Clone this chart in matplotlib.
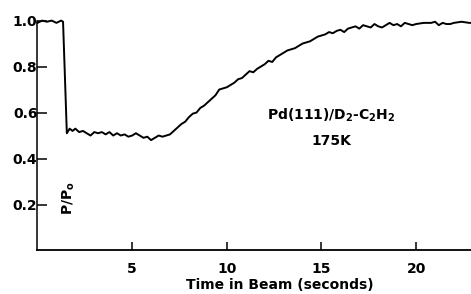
import matplotlib
matplotlib.use("Agg")
import matplotlib.pyplot as plt

plt.rcParams["font.family"] = ["DejaVu Sans"]
plt.rcParams["mathtext.fontset"] = "dejavusans"

# time in beam (s) and normalised pressure P/Po
time_s = [0, 0.25, 0.5, 0.75, 1.0, 1.25, 1.35,
          1.55, 1.7, 1.85, 2.0, 2.2, 2.4, 2.6, 2.8, 3.0, 3.2, 3.4, 3.6, 3.8,
          4.0, 4.2, 4.4, 4.6, 4.8, 5.0, 5.2, 5.4, 5.6, 5.8, 6.0, 6.2, 6.4,
          6.6, 6.8, 7.0, 7.2, 7.4, 7.6, 7.8, 8.0, 8.2, 8.4, 8.6, 8.8, 9.0,
          9.2, 9.4, 9.6, 9.8, 10.0, 10.2, 10.4, 10.6, 10.8, 11.0, 11.2, 11.4,
          11.6, 11.8, 12.0, 12.2, 12.4, 12.6, 12.8, 13.0, 13.2, 13.4, 13.6,
          13.8, 14.0, 14.2, 14.4, 14.6, 14.8, 15.0, 15.2, 15.4, 15.6, 15.8,
          16.0, 16.2, 16.4, 16.6, 16.8, 17.0, 17.2, 17.4, 17.6, 17.8, 18.0,
          18.2, 18.4, 18.6, 18.8, 19.0, 19.2, 19.4, 19.6, 19.8, 20.0, 20.4,
          20.8, 21.0, 21.2, 21.4, 21.6, 21.8, 22.0, 22.4, 22.8, 23.0]
p_ratio = [0.99, 1.00, 0.995, 1.0, 0.99, 1.0, 0.995,
           0.51, 0.53, 0.52, 0.53, 0.515, 0.52, 0.51, 0.50, 0.515, 0.51, 0.515, 0.505, 0.515,
           0.50, 0.51, 0.50, 0.505, 0.495, 0.50, 0.51, 0.50, 0.49, 0.495, 0.48, 0.49, 0.50,
           0.495, 0.50, 0.505, 0.52, 0.535, 0.55, 0.56, 0.58, 0.595, 0.60, 0.62, 0.63, 0.645,
           0.66, 0.675, 0.70, 0.705, 0.71, 0.72, 0.73, 0.745, 0.75, 0.765, 0.78, 0.775,
           0.79, 0.80, 0.81, 0.825, 0.82, 0.84, 0.85, 0.86, 0.87, 0.875, 0.88,
           0.89, 0.90, 0.905, 0.91, 0.92, 0.93, 0.935, 0.94, 0.95, 0.945, 0.955,
           0.96, 0.95, 0.965, 0.97, 0.975, 0.965, 0.98, 0.975, 0.97, 0.985, 0.975,
           0.97, 0.98, 0.99, 0.98, 0.985, 0.975, 0.99, 0.985, 0.98, 0.985, 0.99,
           0.99, 0.995, 0.98, 0.99, 0.985, 0.985, 0.99, 0.995, 0.99, 0.99]

x_ticks = [5, 10, 15, 20]
y_ticks = [0.2, 0.4, 0.6, 0.8, 1.0]
y_ticklabels = ["0.2", "0.4", "0.6", "0.8", "1.0"]

fig = plt.figure(figsize=(4.71, 2.94), dpi=100)
ax = fig.add_axes([0.0796, 0.148, 0.9204, 0.782])

ax.plot(time_s, p_ratio, color="black", lw=1.4, clip_on=False)

ax.set_xlim(0, 22.9)
ax.set_ylim(0, 1.0)
for s in ["top", "right"]:
  ax.spines[s].set_visible(False)
ax.spines["left"].set_linewidth(1.1)
ax.spines["bottom"].set_linewidth(1.3)

ax.set_xticks(x_ticks)
ax.set_yticks(y_ticks)
ax.set_yticklabels(y_ticklabels)
ax.tick_params(axis="y", direction="in", length=7, width=1.1, pad=0, labelsize=10)
ax.tick_params(axis="x", direction="in", length=6, width=1.1, pad=8, labelsize=10)
for lab in ax.get_xticklabels() + ax.get_yticklabels():
  lab.set_fontweight("bold")

ax.text(1.65, 0.23, r"P/P$_\mathbf{o}$", rotation=90, ha="center", va="center",
        fontsize=10, fontweight="bold")
ax.text(15.5, 0.59, r"Pd(111)/D$_\mathbf{2}$-C$_\mathbf{2}$H$_\mathbf{2}$", ha="center",
        va="center", fontsize=10, fontweight="bold")
ax.text(15.5, 0.475, "175K", ha="center", va="center", fontsize=10, fontweight="bold")

fig.text(280 / 471, 1 - 285 / 294, "Time in Beam (seconds)", ha="center", va="center",
         fontsize=10, fontweight="bold")

fig.savefig("out.png", dpi=100)
